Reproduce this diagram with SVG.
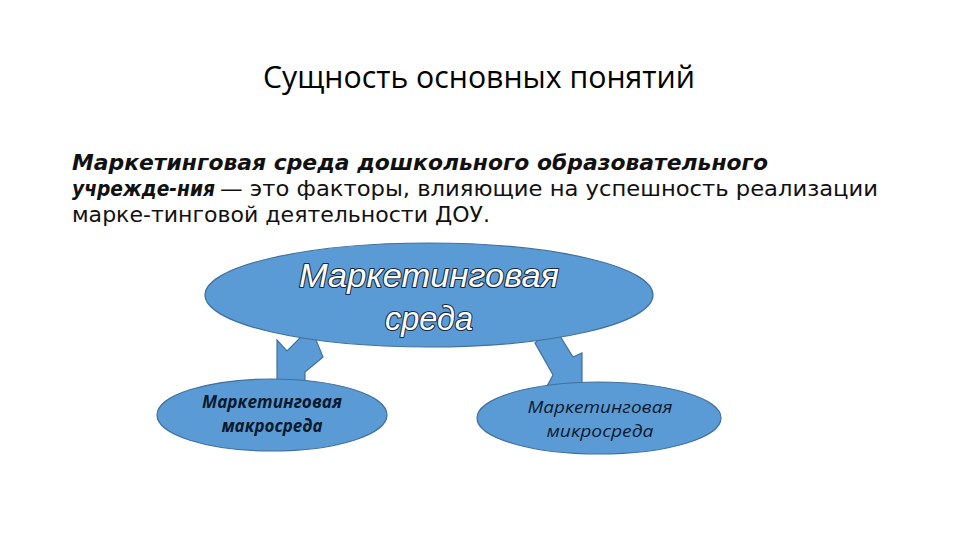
<svg xmlns="http://www.w3.org/2000/svg" width="960" height="540" viewBox="0 0 960 540">
<style>
.shape{fill:#5B9BD5;stroke:#41719C;stroke-width:1.2}
.title{font-family:"Open Sans","Liberation Sans",sans-serif;font-size:31px;fill:#000}
.para{font-family:"DejaVu Sans",sans-serif;font-size:21px;fill:#111}
.bi{font-weight:bold;font-style:italic}
.big{font-family:"Liberation Sans",sans-serif;font-style:italic;font-size:34px;fill:#fff;stroke:#1c2a3c;stroke-width:2.2;stroke-linejoin:round;text-anchor:middle;paint-order:stroke}
.small{font-family:"Open Sans","Liberation Sans",sans-serif;font-style:italic;font-size:17px;fill:#0d1a2e;text-anchor:middle}
</style>
<rect width="960" height="540" fill="#fff"/>
<text class="title" x="263" y="88" textLength="432" lengthAdjust="spacingAndGlyphs">Сущность основных понятий</text>
<g id="paragraph">
<text class="para bi" x="72" y="170" textLength="696" lengthAdjust="spacingAndGlyphs">Маркетинговая среда дошкольного образовательного</text>
<text class="para" x="72" y="196"><tspan class="bi" textLength="143" lengthAdjust="spacingAndGlyphs">учрежде-ния</tspan><tspan x="220" textLength="658" lengthAdjust="spacingAndGlyphs">— это факторы, влияющие на успешность реализации</tspan></text>
<text class="para" x="72" y="222" textLength="418" lengthAdjust="spacingAndGlyphs">марке-тинговой деятельности ДОУ.</text>
</g>
<g id="connectors">
<polygon class="shape" points="302,336 287,351 277,340 277,390 305,390 305,372 323,357 312,330"/>
<polygon class="shape" points="548,330 535,343 553,375 545,390 582,390 582,353 573,357 560,336"/>
</g>
<g id="node-main">
<ellipse class="shape" cx="429" cy="295" rx="224" ry="52"/>
<text class="big" x="429" y="287" textLength="260" lengthAdjust="spacingAndGlyphs">Маркетинговая</text>
<text class="big" x="429" y="330" textLength="88" lengthAdjust="spacingAndGlyphs">среда</text>
</g>
<g id="node-macro">
<ellipse class="shape" cx="272" cy="415" rx="115" ry="36"/>
<text class="small" x="272" y="408" font-weight="bold" textLength="140" lengthAdjust="spacingAndGlyphs">Маркетинговая</text>
<text class="small" x="272" y="432" font-weight="bold" textLength="101" lengthAdjust="spacingAndGlyphs">макросреда</text>
</g>
<g id="node-micro">
<ellipse class="shape" cx="599" cy="418" rx="122" ry="36"/>
<text class="small" x="600" y="413" textLength="145" lengthAdjust="spacingAndGlyphs">Маркетинговая</text>
<text class="small" x="600" y="437" textLength="107" lengthAdjust="spacingAndGlyphs">микросреда</text>
</g>
</svg>
